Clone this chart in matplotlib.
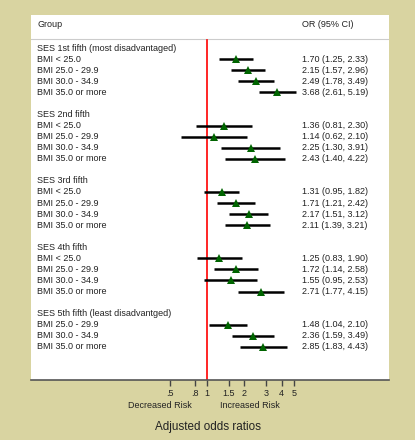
import matplotlib.pyplot as plt
import numpy as np

plt.rcParams['font.family'] = ['Liberation Sans', 'DejaVu Sans']

groups = ["SES 1st fifth (most disadvantaged)", "SES 2nd fifth", "SES 3rd fifth",
          "SES 4th fifth", "SES 5th fifth (least disadvantged)"]
bmi = [["BMI < 25.0", "BMI 25.0 - 29.9", "BMI 30.0 - 34.9", "BMI 35.0 or more"],
       ["BMI < 25.0", "BMI 25.0 - 29.9", "BMI 30.0 - 34.9", "BMI 35.0 or more"],
       ["BMI < 25.0", "BMI 25.0 - 29.9", "BMI 30.0 - 34.9", "BMI 35.0 or more"],
       ["BMI < 25.0", "BMI 25.0 - 29.9", "BMI 30.0 - 34.9", "BMI 35.0 or more"],
       ["BMI 25.0 - 29.9", "BMI 30.0 - 34.9", "BMI 35.0 or more"]]
odds = [[1.70, 2.15, 2.49, 3.68],
        [1.36, 1.14, 2.25, 2.43],
        [1.31, 1.71, 2.17, 2.11],
        [1.25, 1.72, 1.55, 2.71],
        [1.48, 2.36, 2.85]]
lower = [[1.25, 1.57, 1.78, 2.61],
         [0.81, 0.62, 1.30, 1.40],
         [0.95, 1.21, 1.51, 1.39],
         [0.83, 1.14, 0.95, 1.77],
         [1.04, 1.59, 1.83]]
upper = [[2.33, 2.96, 3.49, 5.19],
         [2.30, 2.10, 3.91, 4.22],
         [1.82, 2.42, 3.12, 3.21],
         [1.90, 2.58, 2.53, 4.15],
         [2.10, 3.49, 4.43]]
tick_vals = [0.5, 0.8, 1, 1.5, 2, 3, 4, 5]
tick_labels = [".5", ".8", "1", "1.5", "2", "3", "4", "5"]

bg = '#d9d4a1'
fig = plt.figure(figsize=(4.15, 4.4), dpi=100, facecolor=bg)
W, H = 415, 440
ax = fig.add_axes([31 / W, (H - 380) / H, 358 / W, 365 / H])
ax.set_facecolor('white')

# x pixel = 207 + 124*log10(v)  -> limits of panel
xl = 10 ** ((31 - 207) / 124)
xr = 10 ** ((389 - 207) / 124)
ax.set_xscale('log')
ax.set_xlim(xl, xr)
ax.set_ylim(30, -3)

fs = 6.5
tc = '#222222'
tx = ax.get_yaxis_transform()
row = 0
for g in range(len(groups)):
    ax.text(0.017, row, groups[g], transform=tx, va='center', ha='left',
            fontsize=fs, color=tc)
    row += 1
    for k in range(len(bmi[g])):
        ax.text(0.017, row, bmi[g][k], transform=tx, va='center', ha='left',
                fontsize=fs, color=tc)
        ax.plot([lower[g][k], upper[g][k]], [row, row], color='black', lw=1.8,
                solid_capstyle='butt', zorder=3)
        ax.plot(odds[g][k], row, marker='^', color='#006400', ms=5.5, zorder=4,
                markeredgewidth=0)
        ax.text(0.757, row, "%.2f (%.2f, %.2f)" % (odds[g][k], lower[g][k], upper[g][k]),
                transform=tx, va='center', ha='left', fontsize=fs, color=tc)
        row += 1
    row += 1

ax.text(0.017, -2.1, "Group", transform=tx, va='center', ha='left', fontsize=fs, color=tc)
ax.text(0.757, -2.1, "OR (95% CI)", transform=tx, va='center', ha='left', fontsize=fs,
        color=tc)
ax.axhline(-0.8, color='#cccccc', lw=0.8)
ax.plot([1, 1], [-0.75, 30], color='red', lw=1.2, zorder=2)

ax.set_xticks(tick_vals)
ax.set_xticklabels(tick_labels, fontsize=fs, color=tc)
ax.minorticks_off()
ax.tick_params(axis='x', direction='out', length=4, width=1, color='#444444', pad=2.5)
ax.set_yticks([])
for s in ['top', 'left', 'right']:
    ax.spines[s].set_visible(False)
ax.spines['bottom'].set_color('#555555')
ax.spines['bottom'].set_linewidth(1.2)

fig.text(160 / W, 1 - 405 / H, "Decreased Risk", ha='center', va='center',
         fontsize=fs, color=tc)
fig.text(250 / W, 1 - 405 / H, "Increased Risk", ha='center', va='center',
         fontsize=fs, color=tc)
fig.text(208 / W, 1 - 427 / H, "Adjusted odds ratios", ha='center', va='center',
         fontsize=8.4, color=tc)

fig.savefig('out.png', dpi=100, facecolor=bg)
